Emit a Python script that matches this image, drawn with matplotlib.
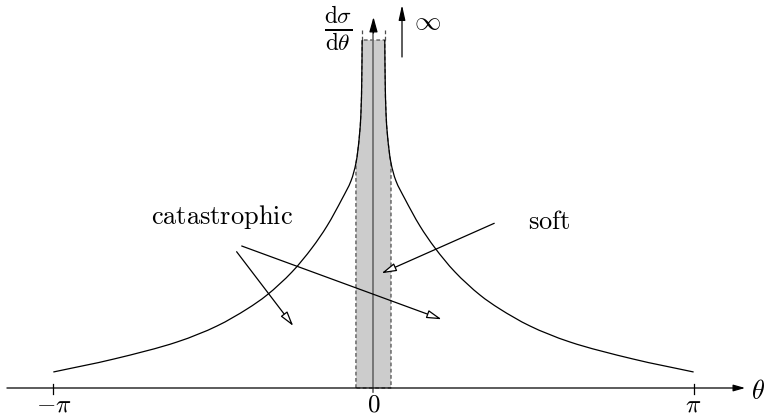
import numpy as np
import matplotlib
matplotlib.use("Agg")
import matplotlib.pyplot as plt
from matplotlib.path import Path
from matplotlib.patches import PathPatch

plt.rcParams['mathtext.fontset'] = 'cm'

# right half of the cross-section curve (theta in rad, arbitrary height); left half is mirrored
theta_r = [0.111, 0.115, 0.123, 0.139, 0.172, 0.221, 0.309, 0.456, 0.604,
           0.800, 1.045, 1.241, 1.536, 1.928, 2.547, np.pi]
sigma_r = [3.48, 3.08, 2.75, 2.51, 2.25, 2.07, 1.89, 1.62, 1.40,
           1.16, 0.93, 0.79, 0.62, 0.46, 0.29, 0.16]
delta = 0.172          # half-width of the shaded forward band (= theta_r[4])
n_band = 4             # curve segments lying inside the band
tick_pos = [-np.pi, 0, np.pi]
tick_labels = [r'$-\pi$', r'$0$', r'$\pi$']


def smooth_segments(pts):
    """Centripetal Catmull-Rom through pts, returned as cubic Bezier segments."""
    pts = np.asarray(pts, float)
    ext = np.vstack([2 * pts[0] - pts[1], pts, 2 * pts[-1] - pts[-2]])
    segs = []
    for i in range(1, len(ext) - 2):
        p0, p1, p2, p3 = ext[i - 1], ext[i], ext[i + 1], ext[i + 2]
        d1 = np.linalg.norm(p1 - p0) ** 0.5
        d2 = np.linalg.norm(p2 - p1) ** 0.5
        d3 = np.linalg.norm(p3 - p2) ** 0.5
        b1 = (d1**2 * p2 - d2**2 * p0 + (2 * d1**2 + 3 * d1 * d2 + d2**2) * p1) / (3 * d1 * (d1 + d2))
        b2 = (d3**2 * p1 - d2**2 * p3 + (2 * d3**2 + 3 * d3 * d2 + d2**2) * p2) / (3 * d3 * (d3 + d2))
        segs.append((p1, b1, b2, p2))
    return segs


def segs_to_path(segs):
    verts = [segs[0][0]]
    codes = [Path.MOVETO]
    for _, b1, b2, p2 in segs:
        verts += [b1, b2, p2]
        codes += [Path.CURVE4] * 3
    return verts, codes


right = smooth_segments(np.column_stack([theta_r, sigma_r]))
left = [tuple(p * np.array([-1, 1]) for p in s) for s in right]

fig = plt.figure(figsize=(7.66, 4.16), dpi=100)
ax = fig.add_axes([0, 0, 1, 1])
ax.set_xlim(-3.665, 3.852)
ax.set_ylim(-0.28, 3.88)
ax.axis('off')

# shaded band under the curve for |theta| < delta
bv = [(-delta, 0), (-delta, sigma_r[n_band])]
bc = [Path.MOVETO, Path.LINETO]
for p1, b1, b2, p2 in reversed(left[:n_band]):
    bv += [b2, b1, p1]
    bc += [Path.CURVE4] * 3
bv.append((theta_r[0], sigma_r[0]))
bc.append(Path.LINETO)
for p1, b1, b2, p2 in right[:n_band]:
    bv += [b1, b2, p2]
    bc += [Path.CURVE4] * 3
bv += [(delta, 0), (delta, 0)]
bc += [Path.LINETO, Path.CLOSEPOLY]
ax.add_patch(PathPatch(Path(bv, bc), facecolor='#cccccc', edgecolor='0.3',
                       linestyle=(0, (3, 2)), linewidth=0.9, zorder=1))
for s in (-1, 1):
    ax.plot([s * theta_r[0]] * 2, [sigma_r[0], sigma_r[0] + 0.12], color='0.3',
            ls=(0, (3, 2)), lw=0.9, zorder=1)

# the curve, both halves
for segs in (left, right):
    v, c = segs_to_path(segs)
    ax.add_patch(PathPatch(Path(v, c), facecolor='none', edgecolor='black',
                           lw=0.9, zorder=3))

# theta axis
ax.annotate('', xy=(3.647, 0), xytext=(-3.597, 0),
            arrowprops=dict(arrowstyle='-|>,head_length=0.7,head_width=0.2',
                            color='black', lw=0.9, shrinkA=0, shrinkB=0), zorder=4)
for t, lab in zip(tick_pos, tick_labels):
    if t != 0:
        ax.plot([t, t], [-0.06, 0.04], color='black', lw=0.9, zorder=4)
    ax.text(t, -0.165, lab, ha='center', va='center', fontsize=18)
ax.text(3.845, -0.04, r'$\theta$', ha='right', va='center', fontsize=19)

# vertical axis
ax.plot([0, 0], [-0.04, 3.58], color='0.4', lw=1.2, zorder=2)
ax.annotate('', xy=(0, 3.71), xytext=(0, 3.55),
            arrowprops=dict(arrowstyle='-|>,head_length=0.9,head_width=0.25',
                            color='black', lw=0.9, shrinkA=0, shrinkB=0), zorder=4)
ax.text(-0.345, 3.59, r'$\frac{\mathrm{d}\sigma}{\mathrm{d}\theta}$',
        ha='center', va='center', fontsize=24)

# divergence marker
ax.annotate('', xy=(0.28, 3.83), xytext=(0.28, 3.31),
            arrowprops=dict(arrowstyle='-|>,head_length=0.9,head_width=0.2',
                            color='black', lw=0.9, shrinkA=0, shrinkB=0))
ax.text(0.525, 3.66, r'$\infty$', ha='center', va='center', fontsize=19)

# labels and pointers
open_head = dict(arrowstyle='-|>,head_length=0.9,head_width=0.25', facecolor='white',
                 edgecolor='black', lw=0.9, shrinkA=0, shrinkB=0)
ax.text(-1.487, 1.71, r'$\mathrm{catastrophic}$', ha='center', va='center', fontsize=19)
ax.annotate('', xy=(-0.787, 0.62), xytext=(-1.343, 1.363), arrowprops=open_head, zorder=5)
ax.annotate('', xy=(0.669, 0.687), xytext=(-1.293, 1.42), arrowprops=open_head, zorder=5)
ax.text(1.722, 1.66, r'$\mathrm{soft}$', ha='center', va='center', fontsize=19)
ax.annotate('', xy=(0.079, 1.147), xytext=(1.185, 1.647), arrowprops=open_head, zorder=5)

fig.savefig('out.png', dpi=100)
